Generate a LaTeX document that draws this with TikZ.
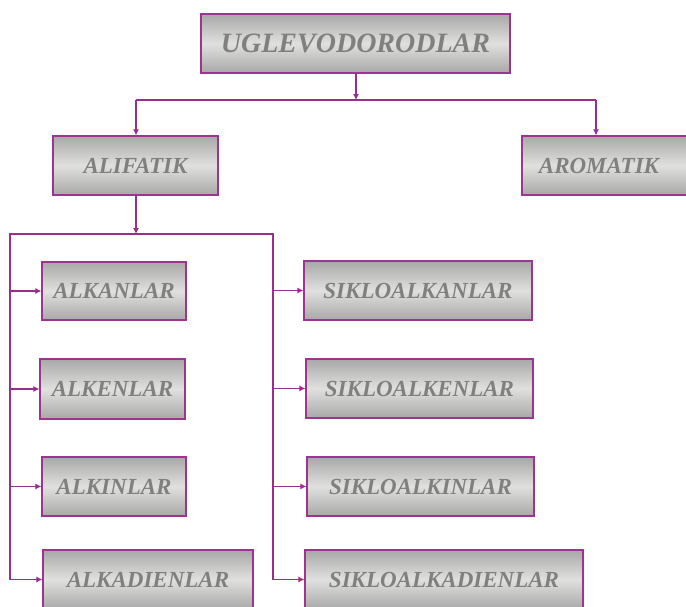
\documentclass[tikz,border=0pt]{standalone}
\usepackage{fontspec}
\setmainfont{Liberation Serif}
\usetikzlibrary{arrows.meta}
\definecolor{linkc}{HTML}{9A2E8A}
\definecolor{edgec}{HTML}{9C3490}
\definecolor{labelc}{HTML}{808080}
\definecolor{shadeout}{HTML}{A8A8A8}
\definecolor{shadein}{HTML}{E0E0DE}
\tikzset{
  box/.style={draw=edgec, line width=1.2pt, rectangle, inner sep=0pt,
    top color=shadeout, bottom color=shadeout, middle color=shadein,
    text=labelc, font=\fontsize{23}{23}\selectfont\bfseries\itshape,
    minimum height=59pt},
  link/.style={draw=linkc, line width=1.1pt},
  arr/.style={link, -{Latex[length=6pt,width=6pt]}},
}
\begin{document}
\begin{tikzpicture}[x=1pt, y=-1pt]
  \fill[white] (0,0) rectangle (686,606);
  \useasboundingbox (0,0) rectangle (686,606);

  % root and first level
  \node[box, minimum width=309pt, font=\fontsize{28}{28}\selectfont\bfseries\itshape] (root) at (355.5,43.5) {UGLEVODORODLAR};
  \node[box, minimum width=165pt] (alif) at (135.5,165.5) {ALIFATIK};
  \node[box, minimum width=178pt] (arom) at (611,165.5) {AROMATIK\hspace*{24pt}};

  % aliphatic branches, open chains
  \node[box, minimum width=144pt, minimum height=58pt] (alkan) at (114,291) {ALKANLAR};
  \node[box, minimum width=145pt, minimum height=60pt] (alken) at (112.5,389) {ALKENLAR};
  \node[box, minimum width=144pt] (alkin) at (114,486.5) {ALKINLAR};
  \node[box, minimum width=210pt] (alkad) at (148,579.5) {ALKADIENLAR};

  % aliphatic branches, rings
  \node[box, minimum width=228pt] (salkan) at (418,290.5) {SIKLOALKANLAR};
  \node[box, minimum width=227pt] (salken) at (419.5,388.5) {SIKLOALKENLAR};
  \node[box, minimum width=227pt] (salkin) at (420.5,486.5) {SIKLOALKINLAR};
  \node[box, minimum width=278pt] (salkad) at (444,579.5) {SIKLOALKADIENLAR};

  % bus coordinates
  \coordinate (b1) at (356,100);
  \coordinate (b1l) at (136,100);
  \coordinate (b1r) at (596,100);
  \coordinate (b2) at (136,234);
  \coordinate (b2l) at (10,234);
  \coordinate (b2r) at (273,234);

  % top level connectors
  \draw[arr] (root.south -| b1) -- (b1);
  \draw[link] (b1l) -- (b1r);
  \draw[arr] (b1l) -- (alif.north -| b1l);
  \draw[arr] (b1r) -- (arom.north -| b1r);

  % aliphatic bus
  \draw[arr] (alif.south -| b2) -- (b2);
  \draw[link] (b2l |- alkad.west) -- (b2l) -- (b2r) -- (b2r |- salkad.west);

  \foreach \n in {alkan,alken,alkin,alkad}
    \draw[arr] (b2l |- \n.west) -- (\n.west);
  \foreach \n in {salkan,salken,salkin,salkad}
    \draw[arr] (b2r |- \n.west) -- (\n.west);
\end{tikzpicture}
\end{document}
